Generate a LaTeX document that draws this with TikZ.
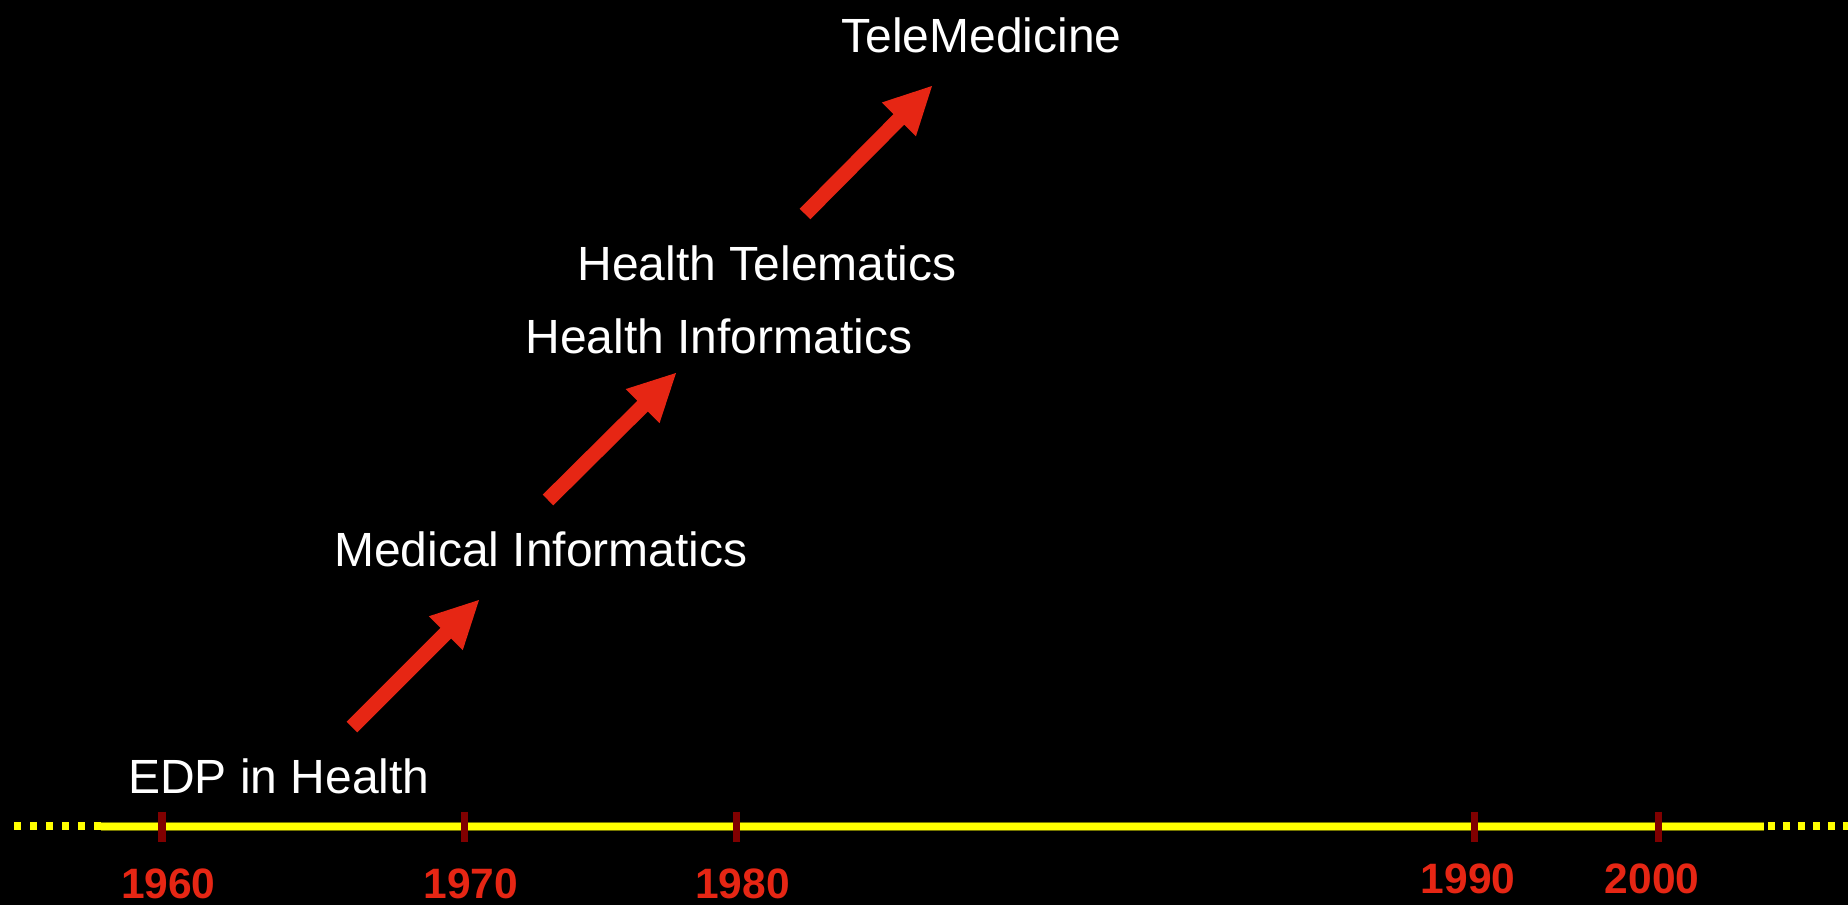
\documentclass[tikz,border=0pt]{standalone}
\usepackage{fontspec}
\setmainfont{Liberation Sans}
\usetikzlibrary{calc}
\definecolor{arrowred}{RGB}{230,38,20}
\definecolor{tickred}{RGB}{128,0,0}
\definecolor{lineyellow}{RGB}{255,255,0}
\definecolor{lineedge}{RGB}{120,120,0}
\tikzset{
  label/.style={text=white, inner sep=0pt, anchor=base, font=\fontsize{48pt}{57pt}\selectfont},
  year/.style={text=arrowred, inner sep=0pt, anchor=base, font=\fontsize{42.5pt}{52pt}\selectfont\bfseries},
  tick/.style={draw=tickred, line width=7.3pt},
  dots/.style={draw=lineyellow, line width=8pt, dash pattern=on 7pt off 9pt},
}
\newcommand\myblockarrow[2]{%
  \coordinate (#1b) at ($(#2)!47pt!(#1)$);
  \fill[arrowred] ($(#1)!7.5pt!90:(#2)$) -- ($(#1b)!7.5pt!90:(#2)$) -- ($(#1b)!24pt!90:(#2)$) -- (#2)
    -- ($(#1b)!24pt!-90:(#2)$) -- ($(#1b)!7.5pt!-90:(#2)$) -- ($(#1)!7.5pt!-90:(#2)$) -- cycle;
}
\begin{document}
\begin{tikzpicture}[x=1pt,y=-1pt]
\fill[black] (0,0) rectangle (1848,905);
\useasboundingbox (0,0) rectangle (1848,905);

% timeline
\coordinate (L0) at (14,826.3);
\coordinate (L1) at (101,826.3);
\coordinate (R1) at (1764.3,826.3);
\coordinate (R0) at (1848,826.3);
\draw[dots] (L0) -- (L1);
\draw[dots, dash pattern=on 7pt off 8pt] ($(R1)+(4,0)$) -- (R0);
\draw[lineedge, line width=8.6pt] (L1) -- (R1);
\draw[lineyellow, line width=6.8pt] (L1) -- (R1);

% ticks
\foreach \n/\x in {t60/162, t70/464.5, t80/736.5, t90/1474.5, t00/1658.3}{
  \coordinate (\n a) at (\x,811.7);
  \coordinate (\n b) at (\x,841.7);
  \draw[tick] (\n a) -- (\n b);
}

% years
\node[year] (y60) at (168.3,898.5) {1960};
\node[year] (y70) at (470.8,898.5) {1970};
\node[year] (y80) at (742.5,898.5) {1980};
\node[year] (y90) at (1468,893.5) {1990};
\node[year] (y00) at (1652,893.5) {2000};

% labels
\node[label] (edp) at (279,793) {EDP in Health};
\node[label] (med) at (541,566) {Medical Informatics};
\node[label] (hinf) at (719,353) {Health Informatics};
\node[label] (htel) at (767,280) {Health Telematics};
\node[label] (tele) at (981.5,52) {TeleMedicine};

% arrows
\coordinate (a1) at (352,727);
\coordinate (e1) at (479,600);
\coordinate (a2) at (548,500);
\coordinate (e2) at (676,373);
\coordinate (a3) at (805,214);
\coordinate (e3) at (932,86);
\myblockarrow{a1}{e1}
\myblockarrow{a2}{e2}
\myblockarrow{a3}{e3}
\end{tikzpicture}
\end{document}
